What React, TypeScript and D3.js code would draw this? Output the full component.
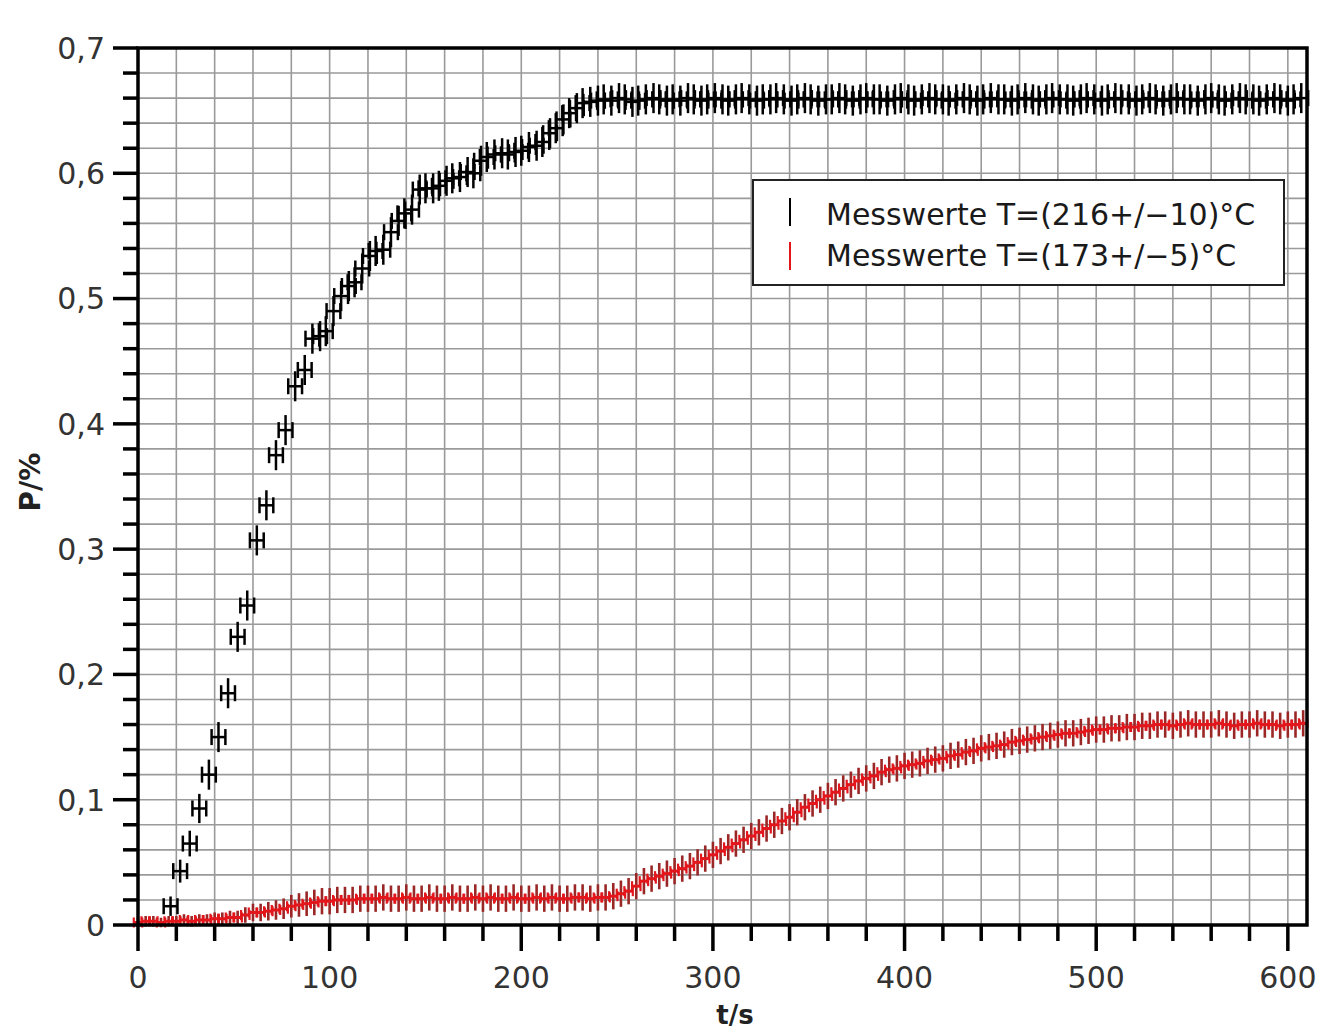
import React from 'react';
import * as d3 from 'd3';

// Black series: Messwerte T=(216+/-10)°C  [t/s, P/%]
const blackData: [number, number][] = [
  [17, 0.015], [22, 0.043], [27, 0.065], [32, 0.093], [37, 0.12], [42, 0.15], [47, 0.185],
  [52, 0.23], [57, 0.255], [62, 0.307], [67, 0.335], [72, 0.375], [77, 0.395], [82, 0.43],
  [87, 0.443], [91, 0.468], [95, 0.47], [98, 0.474], [102, 0.49], [106, 0.502], [110, 0.51],
  [113, 0.513], [117, 0.524], [121, 0.534], [124, 0.538], [128, 0.539], [132, 0.553], [136, 0.562],
  [139, 0.568], [143, 0.571], [147, 0.587], [150, 0.588], [154, 0.588], [157, 0.59], [161, 0.594],
  [164, 0.596], [168, 0.597], [172, 0.601], [175, 0.6], [179, 0.61], [182, 0.613], [186, 0.615],
  [190, 0.616], [193, 0.615], [197, 0.617], [200, 0.618], [204, 0.621], [208, 0.622], [211, 0.625],
  [215, 0.632], [218, 0.636], [222, 0.643], [225, 0.648], [229, 0.652], [232, 0.656], [236, 0.657],
  [240, 0.658], [243, 0.659], [247, 0.658], [251, 0.66], [254, 0.659], [258, 0.657], [261, 0.658],
  [265, 0.659], [269, 0.66], [272, 0.659], [276, 0.658], [279, 0.659], [283, 0.658], [287, 0.66],
  [290, 0.659], [294, 0.658], [297, 0.659], [301, 0.66], [305, 0.659], [308, 0.658], [312, 0.659],
  [315, 0.66], [319, 0.659], [323, 0.658], [326, 0.659], [330, 0.659], [333, 0.66], [337, 0.659],
  [341, 0.658], [344, 0.659], [348, 0.66], [351, 0.659], [355, 0.658], [359, 0.659], [362, 0.659],
  [366, 0.66], [369, 0.659], [373, 0.658], [377, 0.659], [380, 0.66], [384, 0.659], [387, 0.659],
  [391, 0.658], [395, 0.659], [398, 0.66], [402, 0.659], [405, 0.658], [409, 0.659], [413, 0.66],
  [416, 0.659], [420, 0.659], [423, 0.658], [427, 0.659], [431, 0.66], [434, 0.659], [438, 0.658],
  [441, 0.659], [445, 0.66], [449, 0.659], [452, 0.659], [456, 0.658], [459, 0.659], [463, 0.66],
  [467, 0.659], [470, 0.658], [474, 0.659], [477, 0.66], [481, 0.659], [485, 0.659], [488, 0.658],
  [492, 0.659], [495, 0.66], [499, 0.659], [503, 0.658], [506, 0.659], [510, 0.66], [513, 0.659],
  [517, 0.659], [521, 0.658], [524, 0.659], [528, 0.66], [531, 0.659], [535, 0.658], [539, 0.659],
  [542, 0.66], [546, 0.659], [549, 0.659], [553, 0.658], [557, 0.659], [560, 0.66], [564, 0.659],
  [567, 0.658], [571, 0.659], [575, 0.66], [578, 0.659], [582, 0.659], [585, 0.658], [589, 0.659],
  [593, 0.66], [596, 0.659], [600, 0.658], [603, 0.659], [607, 0.66],
];

// Red series: Messwerte T=(173+/-5)°C
const redT: number[] = [
  0, 4, 8, 12, 16, 20, 24, 28, 32, 36,
  40, 44, 48, 52, 56, 60, 64, 68, 72, 76,
  80, 84, 88, 92, 96, 100, 104, 108, 112, 116,
  120, 124, 128, 132, 136, 140, 144, 148, 152, 156,
  160, 164, 168, 172, 176, 180, 184, 188, 192, 196,
  200, 204, 208, 212, 216, 220, 224, 228, 232, 236,
  240, 244, 248, 252, 256, 260, 264, 268, 272, 276,
  280, 284, 288, 292, 296, 300, 304, 308, 312, 316,
  320, 324, 328, 332, 336, 340, 344, 348, 352, 356,
  360, 364, 368, 372, 376, 380, 384, 388, 392, 396,
  400, 404, 408, 412, 416, 420, 424, 428, 432, 436,
  440, 444, 448, 452, 456, 460, 464, 468, 472, 476,
  480, 484, 488, 492, 496, 500, 504, 508, 512, 516,
  520, 524, 528, 532, 536, 540, 544, 548, 552, 556,
  560, 564, 568, 572, 576, 580, 584, 588, 592, 596,
  600, 604, 608,
];
const redP: number[] = [
  0.002, 0.003, 0.003, 0.002, 0.003, 0.003, 0.004, 0.003, 0.004, 0.004,
  0.005, 0.005, 0.006, 0.006, 0.008, 0.01, 0.01, 0.011, 0.012, 0.013,
  0.015, 0.016, 0.017, 0.018, 0.019, 0.019, 0.02, 0.02, 0.02, 0.021,
  0.021, 0.021, 0.022, 0.021, 0.021, 0.022, 0.021, 0.021, 0.022, 0.021,
  0.021, 0.022, 0.021, 0.021, 0.022, 0.021, 0.022, 0.021, 0.021, 0.022,
  0.021, 0.021, 0.022, 0.021, 0.022, 0.021, 0.021, 0.022, 0.022, 0.021,
  0.022, 0.022, 0.023, 0.025, 0.027, 0.031, 0.035, 0.037, 0.039, 0.041,
  0.043, 0.045, 0.047, 0.05, 0.053, 0.056, 0.059, 0.062, 0.065, 0.068,
  0.071, 0.074, 0.077, 0.08, 0.083, 0.086, 0.09, 0.094, 0.097, 0.1,
  0.103, 0.106, 0.109, 0.112, 0.115, 0.117, 0.119, 0.122, 0.124, 0.125,
  0.127, 0.128, 0.129, 0.131, 0.132, 0.133, 0.135, 0.136, 0.138, 0.139,
  0.141, 0.142, 0.143, 0.144, 0.146, 0.147, 0.148, 0.149, 0.15, 0.151,
  0.152, 0.153, 0.153, 0.154, 0.155, 0.156, 0.156, 0.157, 0.157, 0.158,
  0.158, 0.159, 0.159, 0.16, 0.16, 0.159, 0.16, 0.161, 0.16, 0.16,
  0.16, 0.161, 0.16, 0.159, 0.16, 0.16, 0.161, 0.16, 0.16, 0.159,
  0.16, 0.16, 0.161,
];

const xTickValues = [0, 100, 200, 300, 400, 500, 600];
const xTickLabels = ['0', '100', '200', '300', '400', '500', '600'];
const yTickValues = [0, 0.1, 0.2, 0.3, 0.4, 0.5, 0.6, 0.7];
const yTickLabels = ['0', '0,1', '0,2', '0,3', '0,4', '0,5', '0,6', '0,7'];
const legendLabels = ['Messwerte T=(216+/−10)°C', 'Messwerte T=(173+/−5)°C'];
const seriesColors = ['#000000', '#e3161c'];

export default function App() {
  const W = 1325;
  const H = 1034;
  const x = d3.scaleLinear().domain([0, 610]).range([138, 1307]);
  const y = d3.scaleLinear().domain([0, 0.7]).range([925, 48]);
  const font = '"DejaVu Sans", Verdana, sans-serif';

  const xGrid = d3.range(20, 610, 20);
  const yGrid = d3.range(1, 35).map((i) => i * 0.02);
  const xMinor = d3.range(20, 610, 20).filter((v) => v % 100 !== 0);
  const yMinor = d3.range(1, 35).map((i) => i * 0.02).filter((_, i) => (i + 1) % 5 !== 0);

  const blackErr = (v: number) => Math.min(0.012, 0.007 + 0.05 * v);
  const redErr = (v: number) => Math.min(0.0105, 0.003 + 0.4 * v);

  const redData = redT.map((t, i) => [t, redP[i]] as [number, number]);

  return (
    <svg width={W} height={H} style={{ position: 'absolute', left: 0, top: 0, display: 'block', background: '#fff' }}>
      <rect x={0} y={0} width={W} height={H} fill="#fff" />
      {/* grid */}
      <g stroke="#9a9a9a" strokeWidth={1.6}>
        {xGrid.map((v) => (
          <line key={'gx' + v} x1={x(v)} x2={x(v)} y1={y(0.7)} y2={y(0)} />
        ))}
        {yGrid.map((v) => (
          <line key={'gy' + v} x1={x(0)} x2={x(610)} y1={y(v)} y2={y(v)} />
        ))}
      </g>

      {/* red series */}
      <g>
        {redData.map(([t, v], i) => {
          const e = redErr(v);
          return (
            <g key={'r' + i}>
              <line x1={x(t)} x2={x(t)} y1={y(v - e)} y2={y(v + e)} stroke="#9a2626" strokeWidth={2.6} />
              <line x1={x(t - 2.2)} x2={x(t + 2.2)} y1={y(v)} y2={y(v)} stroke="#e3161c" strokeWidth={3} />
              <line x1={x(t - 2.2)} x2={x(t - 2.2)} y1={y(v) - 5} y2={y(v) + 5} stroke="#e3161c" strokeWidth={2.2} />
              <line x1={x(t + 2.2)} x2={x(t + 2.2)} y1={y(v) - 5} y2={y(v) + 5} stroke="#e3161c" strokeWidth={2.2} />
            </g>
          );
        })}
      </g>

      {/* black series */}
      <g stroke="#000" strokeWidth={2.5}>
        {blackData.map(([t, v], i) => {
          const e = blackErr(v);
          return (
            <g key={'b' + i}>
              <line x1={x(t)} x2={x(t)} y1={y(v - e)} y2={y(v + e)} />
              <line x1={x(t - 3.6)} x2={x(t + 3.6)} y1={y(v)} y2={y(v)} />
              <line x1={x(t - 3.6)} x2={x(t - 3.6)} y1={y(v) - 8} y2={y(v) + 8} />
              <line x1={x(t + 3.6)} x2={x(t + 3.6)} y1={y(v) - 8} y2={y(v) + 8} />
            </g>
          );
        })}
      </g>

      {/* frame */}
      <rect x={x(0)} y={y(0.7)} width={x(610) - x(0)} height={y(0) - y(0.7)} fill="none" stroke="#000" strokeWidth={3.5} />

      {/* ticks */}
      <g stroke="#000" strokeWidth={3.5}>
        {yTickValues.map((v) => (
          <line key={'ytM' + v} x1={x(0) - 25} x2={x(0)} y1={y(v)} y2={y(v)} />
        ))}
        {yMinor.map((v) => (
          <line key={'ytm' + v} x1={x(0) - 15} x2={x(0)} y1={y(v)} y2={y(v)} />
        ))}
        {xTickValues.map((v) => (
          <line key={'xtM' + v} x1={x(v)} x2={x(v)} y1={y(0)} y2={y(0) + 26} />
        ))}
        {xMinor.map((v) => (
          <line key={'xtm' + v} x1={x(v)} x2={x(v)} y1={y(0)} y2={y(0) + 16} />
        ))}
      </g>

      {/* tick labels */}
      <g fontFamily={font} fontSize={30} fill="#333">
        {yTickValues.map((v, i) => (
          <text key={'yl' + v} x={105} y={y(v)} dy="0.36em" textAnchor="end">
            {yTickLabels[i]}
          </text>
        ))}
        {xTickValues.map((v, i) => (
          <text key={'xl' + v} x={x(v)} y={988} textAnchor="middle">
            {xTickLabels[i]}
          </text>
        ))}
      </g>

      {/* axis titles */}
      <text x={735} y={1024} textAnchor="middle" fontFamily={font} fontWeight="bold" fontSize={26} fill="#222">
        t/s
      </text>
      <text
        transform={`translate(40,482) rotate(-90)`}
        textAnchor="middle"
        fontFamily={font}
        fontWeight="bold"
        fontSize={28}
        fill="#222"
      >
        P/%
      </text>

      {/* legend */}
      <g>
        <rect x={753} y={180} width={531} height={105} fill="#fff" stroke="#222" strokeWidth={2} />
        {legendLabels.map((lab, i) => (
          <g key={'lg' + i}>
            <line x1={790} x2={790} y1={198 + i * 44} y2={226 + i * 44} stroke={seriesColors[i]} strokeWidth={2} />
            <text x={826} y={225 + i * 41} fontFamily={font} fontSize={30} fill="#1a1a1a">
              {lab}
            </text>
          </g>
        ))}
      </g>
    </svg>
  );
}
